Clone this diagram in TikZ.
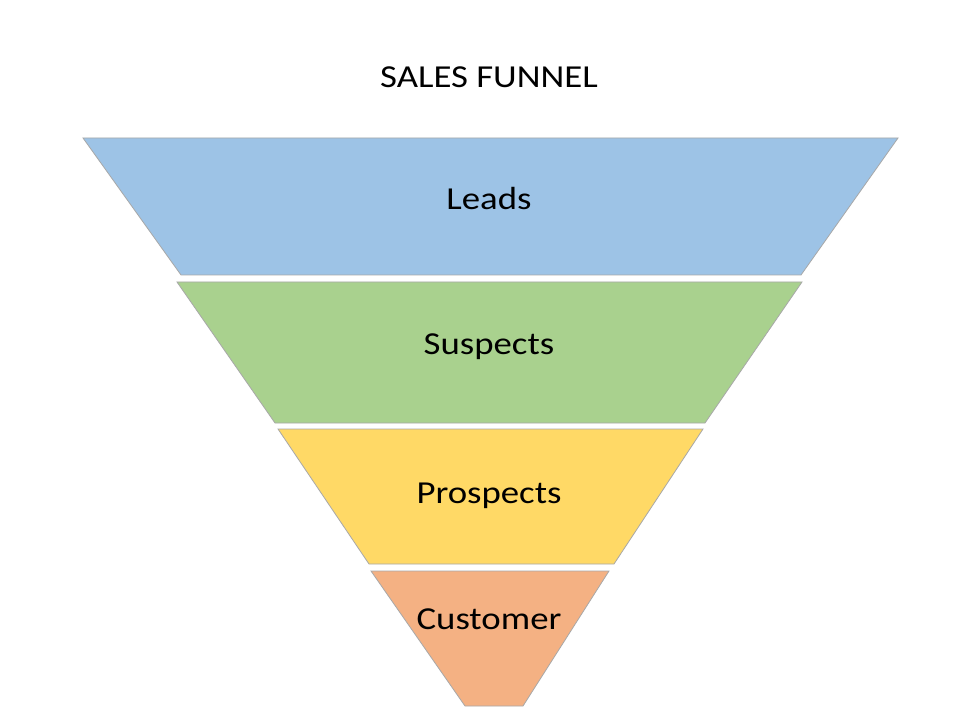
\documentclass[tikz,border=0pt]{standalone}
\usepackage{fontspec}
\setmainfont{Carlito}[FakeStretch=1.15]
\definecolor{cblue}{HTML}{9DC3E6}
\definecolor{cgreen}{HTML}{A9D18E}
\definecolor{cyellow}{HTML}{FFD966}
\definecolor{corange}{HTML}{F4B183}
\definecolor{edge}{HTML}{A8A8A8}
\begin{document}
\begin{tikzpicture}[x=0.75pt,y=-0.75pt,
  band/.style={draw=edge,line width=0.6pt,line join=miter},
  lbl/.style={anchor=base,inner sep=0pt,font=\fontsize{24}{28}\selectfont}]
\useasboundingbox (0,0) rectangle (960,720);
\fill[white] (0,0) rectangle (960,720);
\filldraw[band,fill=cblue]   (83,138) -- (898,138) -- (801,275) -- (181,275) -- cycle;
\filldraw[band,fill=cgreen]  (177,282) -- (802,282) -- (705,423) -- (275,423) -- cycle;
\filldraw[band,fill=cyellow] (278,429) -- (703,429) -- (614,564) -- (369,564) -- cycle;
\filldraw[band,fill=corange] (371,571) -- (609,571) -- (523,706) -- (465,706) -- cycle;
\node[lbl] (title) at (489,88) {SALES FUNNEL};
\node[lbl] (leads) at (489,210) {Leads};
\node[lbl] (suspects) at (489,354) {Suspects};
\node[lbl] (prospects) at (489,503) {Prospects};
\node[lbl] (customer) at (489,629) {Customer};
\end{tikzpicture}
\end{document}
